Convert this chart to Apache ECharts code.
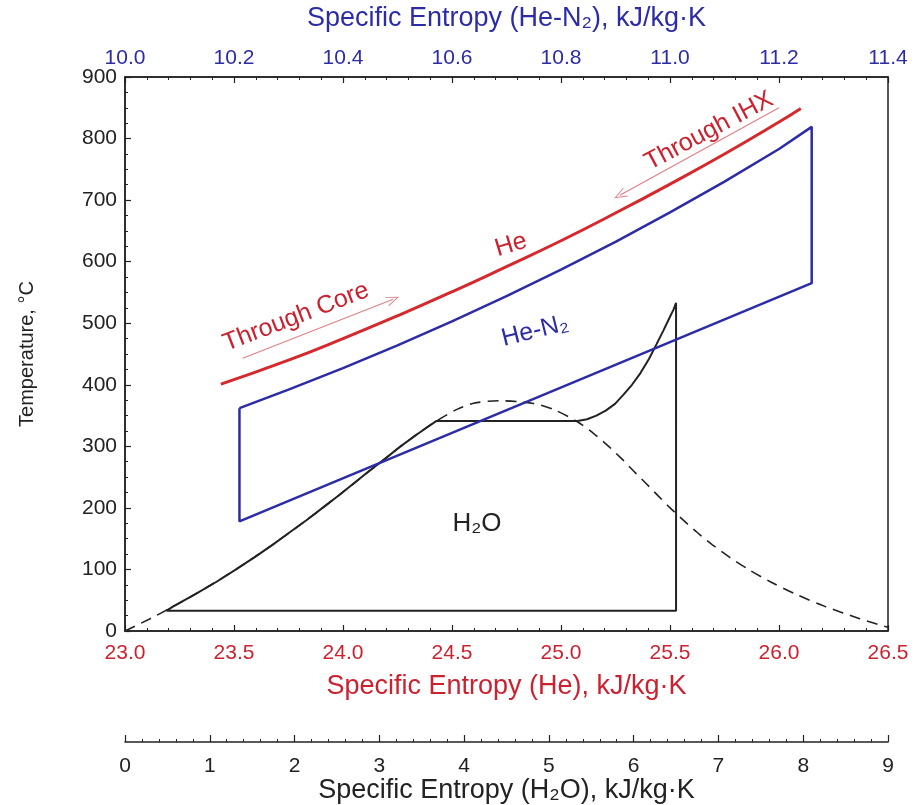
<!DOCTYPE html>
<html>
<head>
<meta charset="utf-8">
<script src="https://cdn.jsdelivr.net/npm/echarts@6/dist/echarts.min.js"></script>
<style>
  html, body { margin: 0; padding: 0; background: #fff; }
  #main { width: 918px; height: 805px; }
</style>
</head>
<body>
<div id="main"></div>
<script>
// He loop through core / IHX (bottom red axis)
const heS = [23.44, 23.75, 24.0, 24.25, 24.5, 24.75, 25.0, 25.25, 25.5, 25.75, 26.0, 26.1]
const heT = [401, 440, 475, 512, 551, 592, 634, 679, 726, 775, 827, 849]

// He-N2 Brayton loop (top blue axis)
const henS = [10.21, 10.3, 10.4, 10.5, 10.6, 10.7, 10.8, 10.9, 11.0, 11.1, 11.2, 11.26, 11.26, 10.21, 10.21]
const henT = [362, 392, 427, 464, 503, 544, 587, 632, 680, 730, 783, 819, 565, 178, 362]

// H2O Rankine cycle (lower black axis)
const h2oS = [0.49, 0.57, 0.83, 1.08, 1.31, 1.53, 1.74, 1.94, 2.14, 2.33, 2.52, 2.70, 2.88, 3.07, 3.25, 3.45, 3.67,
  5.34, 5.45, 5.56, 5.67, 5.78, 5.88, 5.98, 6.08, 6.18, 6.27, 6.35, 6.42, 6.47, 6.50, 6.50, 0.49]
const h2oT = [33, 40, 60, 80, 100, 120, 140, 160, 180, 200, 220, 240, 260, 280, 300, 320, 341,
  341, 344, 350, 358, 369, 384, 400, 419, 442, 466, 488, 508, 522, 533, 33, 33]

// saturation dome (dashed)
const domeS = [0, 0.296, 0.572, 0.831, 1.075, 1.307, 1.528, 1.739, 1.943, 2.139, 2.331, 2.518, 2.702, 2.884, 3.067,
  3.254, 3.449, 3.66, 3.916, 4.111, 4.407, 4.8, 5.053, 5.336, 5.536, 5.705, 5.857, 5.999, 6.144, 6.286, 6.43,
  6.586, 6.75, 6.929, 7.13, 7.355, 7.612, 7.908, 8.256, 8.666, 9.0]
const domeT = [0, 20, 40, 60, 80, 100, 120, 140, 160, 180, 200, 220, 240, 260, 280,
  300, 320, 340, 360, 370, 374, 370, 360, 340, 320, 300, 280, 260, 240, 220, 200,
  180, 160, 140, 120, 100, 80, 60, 40, 20, 6]

// arrows (He entropy, temperature)
const coreArrow = [[23.54, 443], [24.23, 539]]
const ihxArrow = [[26.0, 850], [25.27, 708]]

const RED = '#cc2230'
const BLUE = '#2c2ca6'
const INK = '#222'
const FONT = 'Liberation Sans'
const TITLE_SIZE = 27

const zip = (a, b) => a.map((v, i) => [v, b[i]])

const chartDom = document.getElementById('main')
const myChart = echarts.init(chartDom)

function xAxisBase(color) {
  return {
    type: 'value',
    splitLine: { show: false },
    axisLine: { show: true, onZero: false, lineStyle: { color: INK, width: 1.5 } },
    axisTick: { show: true, inside: true, length: 6, lineStyle: { color: INK, width: 1.2 } },
    minorTick: { show: true, splitNumber: 5, length: 3, lineStyle: { color: INK, width: 1 } },
    axisLabel: { color: color, fontSize: 21, fontFamily: FONT },
    nameLocation: 'middle',
    nameMoveOverlap: false,
    nameTextStyle: { color: color, fontSize: TITLE_SIZE, fontFamily: FONT },
  }
}

const chevron = 'path://M10,0L20,20L18,20L10,4L2,20L0,20Z'

const option = {
  animation: false,
  backgroundColor: '#fff',
  grid: {
    left: 125, right: 30, top: 77, bottom: 174,
    outerBoundsMode: 'none',
    show: true, borderColor: INK, borderWidth: 1.5, backgroundColor: 'transparent',
  },
  xAxis: [
    Object.assign(xAxisBase(RED), {
      position: 'bottom', min: 23, max: 26.5, interval: 0.5,
      name: 'Specific Entropy (He), kJ/kg·K', nameGap: 42,
      axisLabel: { color: RED, fontSize: 21, fontFamily: FONT, margin: 12, formatter: (v) => v.toFixed(1) },
    }),
    Object.assign(xAxisBase(BLUE), {
      position: 'top', min: 10, max: 11.4, interval: 0.2,
      name: 'Specific Entropy (He-N₂), kJ/kg·K', nameGap: 45,
      axisLabel: { color: BLUE, fontSize: 21, fontFamily: FONT, margin: 8, formatter: (v) => v.toFixed(1) },
    }),
    Object.assign(xAxisBase(INK), {
      position: 'bottom', offset: 111, min: 0, max: 9, interval: 1,
      name: 'Specific Entropy (H₂O), kJ/kg·K', nameGap: 35,
      axisTick: { show: true, inside: true, length: 7, lineStyle: { color: INK, width: 1.2 } },
      axisLabel: { color: INK, fontSize: 21, fontFamily: FONT, margin: 14 },
    }),
  ],
  yAxis: {
    type: 'value', min: 0, max: 900, interval: 100,
    name: 'Temperature, °C', nameLocation: 'middle', nameGap: 88, nameMoveOverlap: false,
    nameTextStyle: { color: INK, fontSize: 20, fontFamily: FONT },
    splitLine: { show: false },
    axisLine: { show: true, lineStyle: { color: INK, width: 1.5 } },
    axisTick: { show: true, inside: true, length: 6, lineStyle: { color: INK, width: 1.2 } },
    minorTick: { show: true, splitNumber: 4, length: 3, lineStyle: { color: INK, width: 1 } },
    axisLabel: { color: INK, fontSize: 21, fontFamily: FONT, margin: 8 },
  },
  series: [
    {
      name: 'dome', type: 'line', xAxisIndex: 2, data: zip(domeS, domeT),
      showSymbol: false, smooth: 0.3, silent: true,
      lineStyle: { color: INK, width: 1.6, type: [11, 7] },
    },
    {
      name: 'H2O', type: 'line', xAxisIndex: 2, data: zip(h2oS, h2oT),
      showSymbol: false, silent: true,
      lineStyle: { color: INK, width: 2 },
    },
    {
      name: 'He-N2', type: 'line', xAxisIndex: 1, data: zip(henS, henT),
      showSymbol: false, silent: true,
      lineStyle: { color: BLUE, width: 2.5 },
    },
    {
      name: 'He', type: 'line', xAxisIndex: 0, data: zip(heS, heT),
      showSymbol: false, smooth: true, silent: true,
      lineStyle: { color: '#d42a2e', width: 3 },
      markLine: {
        silent: true,
        symbol: ['none', chevron],
        symbolSize: [10, 13],
        label: { show: false },
        lineStyle: { color: '#e08088', width: 1.2, type: 'solid' },
        data: [
          [{ coord: coreArrow[0] }, { coord: coreArrow[1] }],
          [{ coord: ihxArrow[0] }, { coord: ihxArrow[1] }],
        ],
      },
    },
  ],
  graphic: [
    { type: 'text', x: 296, y: 317, rotation: 21 * Math.PI / 180,
      style: { text: 'Through Core', fill: RED, font: '25px "Liberation Sans"', align: 'center', verticalAlign: 'middle' } },
    { type: 'text', x: 709, y: 131, rotation: 28 * Math.PI / 180,
      style: { text: 'Through IHX', fill: RED, font: '25px "Liberation Sans"', align: 'center', verticalAlign: 'middle' } },
    { type: 'text', x: 511, y: 245, rotation: 17 * Math.PI / 180,
      style: { text: 'He', fill: RED, font: '25px "Liberation Sans"', align: 'center', verticalAlign: 'middle' } },
    { type: 'text', x: 535, y: 331, rotation: 14 * Math.PI / 180,
      style: { text: 'He-N₂', fill: BLUE, font: '25px "Liberation Sans"', align: 'center', verticalAlign: 'middle' } },
    { type: 'text', x: 477, y: 524,
      style: { text: 'H₂O', fill: INK, font: '26px "Liberation Sans"', align: 'center', verticalAlign: 'middle' } },
  ],
}

option && myChart.setOption(option)
</script>
</body>
</html>
